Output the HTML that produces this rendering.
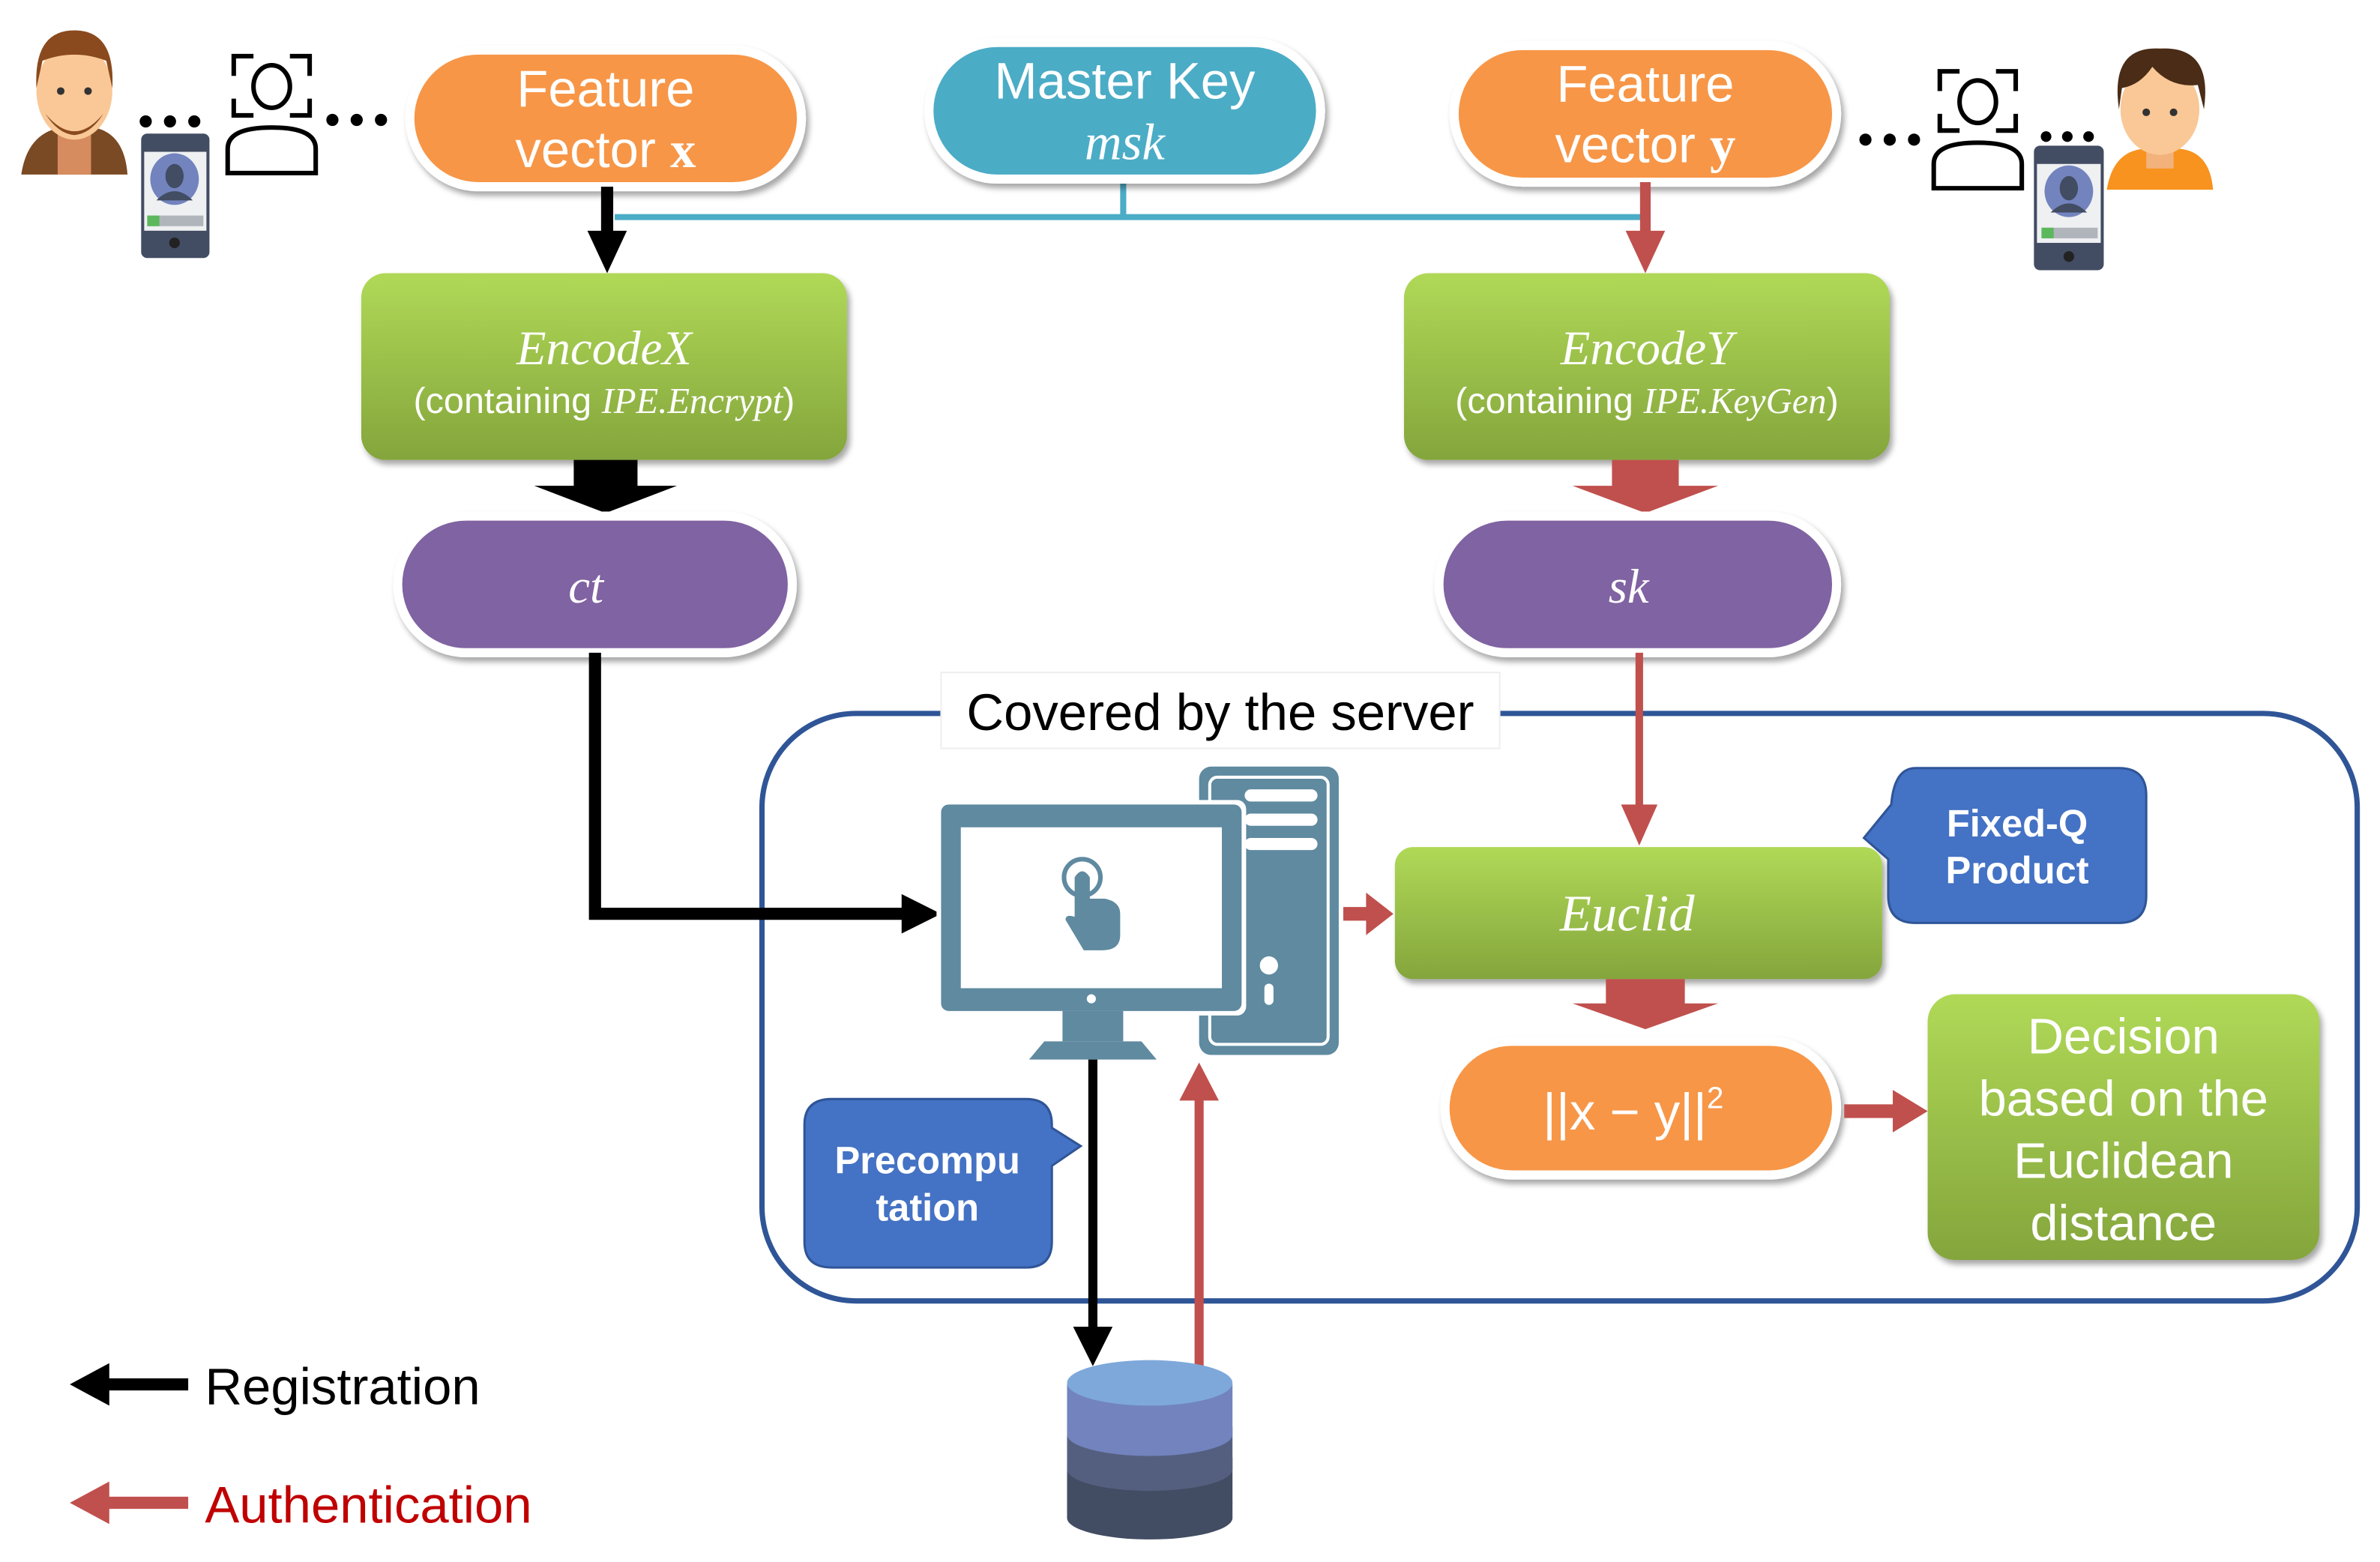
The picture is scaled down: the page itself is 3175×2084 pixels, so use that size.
<!DOCTYPE html>
<html><head><meta charset="utf-8"><style>
html,body{margin:0;padding:0;background:#fff;}
svg{display:block;}
text{font-family:"Liberation Sans",sans-serif;}
.ser{font-family:"Liberation Serif",serif;font-style:italic;}
</style></head><body>
<svg width="3175" height="2084" viewBox="0 0 1568 1029" preserveAspectRatio="none" xmlns="http://www.w3.org/2000/svg">
<defs>
<linearGradient id="gr" x1="0" y1="0" x2="0" y2="1"><stop offset="0" stop-color="#b0d957"/><stop offset="1" stop-color="#84a53c"/></linearGradient>
<filter id="sh" x="-10%" y="-10%" width="130%" height="140%"><feDropShadow dx="2" dy="3" stdDeviation="2" flood-opacity="0.35"/></filter>
</defs>
<rect width="1568" height="1029" fill="#fff"/>

<path d="M405 143 H1083 M740 118 V143" stroke="#4BACC6" stroke-width="4" fill="none"/>

<rect x="270" y="33" width="258" height="90" rx="45" fill="#F79646" stroke="#fff" stroke-width="6" filter="url(#sh)"/>
<text x="399" y="70" font-size="34" fill="#fff" text-anchor="middle">Feature</text>
<text x="399" y="110" font-size="34" fill="#fff" text-anchor="middle">vector <tspan font-family="Liberation Serif" font-weight="bold">x</tspan></text>

<rect x="612" y="28" width="258" height="90" rx="45" fill="#4BACC6" stroke="#fff" stroke-width="6" filter="url(#sh)"/>
<text x="741" y="65" font-size="34" fill="#fff" text-anchor="middle">Master Key</text>
<text x="741" y="105" font-size="34" fill="#fff" text-anchor="middle" class="ser">msk</text>

<rect x="958" y="30" width="252" height="90" rx="45" fill="#F79646" stroke="#fff" stroke-width="6" filter="url(#sh)"/>
<text x="1084" y="67" font-size="34" fill="#fff" text-anchor="middle">Feature</text>
<text x="1084" y="107" font-size="34" fill="#fff" text-anchor="middle">vector <tspan font-family="Liberation Serif" font-weight="bold">y</tspan></text>

<path d="M400 123 V155" stroke="#000" stroke-width="8"/>
<polygon points="387,152 413,152 400,180" fill="#000"/>
<path d="M1084 120 V155" stroke="#C0504D" stroke-width="7"/>
<polygon points="1071,152 1097,152 1084,180" fill="#C0504D"/>

<rect x="238" y="180" width="320" height="123" rx="16" fill="url(#gr)" filter="url(#sh)"/>
<text x="398" y="240" font-size="32" fill="#fff" text-anchor="middle" class="ser">EncodeX</text>
<text x="398" y="272" font-size="24" fill="#fff" text-anchor="middle">(containing <tspan class="ser">IPE.Encrypt</tspan>)</text>
<rect x="925" y="180" width="320" height="123" rx="16" fill="url(#gr)" filter="url(#sh)"/>
<text x="1085" y="240" font-size="32" fill="#fff" text-anchor="middle" class="ser">EncodeY</text>
<text x="1085" y="272" font-size="24" fill="#fff" text-anchor="middle">(containing <tspan class="ser">IPE.KeyGen</tspan>)</text>

<polygon points="378,303 420,303 420,320 446,320 399,338 352,320 378,320" fill="#000"/>
<polygon points="1062,303 1106,303 1106,320 1132,320 1084,338 1036,320 1062,320" fill="#C0504D"/>

<rect x="262" y="340" width="260" height="90" rx="45" fill="#8064A2" stroke="#fff" stroke-width="6" filter="url(#sh)"/>
<text x="386" y="397" font-size="32" fill="#fff" text-anchor="middle" class="ser">ct</text>
<rect x="948" y="340" width="262" height="90" rx="45" fill="#8064A2" stroke="#fff" stroke-width="6" filter="url(#sh)"/>
<text x="1073" y="397" font-size="32" fill="#fff" text-anchor="middle" class="ser">sk</text>

<rect x="502" y="470" width="1051" height="387" rx="62" fill="none" stroke="#2F5597" stroke-width="3.5"/>
<rect x="620" y="443" width="368" height="50" fill="#fff" stroke="#eee" stroke-width="1"/>
<text x="804" y="481" font-size="34" fill="#000" text-anchor="middle">Covered by the server</text>

<path d="M392 430 V602 H598" stroke="#000" stroke-width="8" fill="none"/>
<polygon points="594,589 594,615 620,602" fill="#000"/>
<path d="M1080 430 V535" stroke="#C0504D" stroke-width="5"/>
<polygon points="1068,530 1092,530 1080,557" fill="#C0504D"/>

<rect x="790" y="505" width="92" height="190" rx="8" fill="#5F8AA0"/>
<rect x="797" y="512" width="78" height="176" rx="5" fill="none" stroke="#fff" stroke-width="2"/>
<rect x="820" y="520" width="48" height="8" rx="4" fill="#fff"/>
<rect x="820" y="536" width="48" height="8" rx="4" fill="#fff"/>
<rect x="820" y="552" width="48" height="8" rx="4" fill="#fff"/>
<circle cx="836" cy="636" r="6" fill="#fff"/>
<rect x="833" y="648" width="6" height="14" rx="3" fill="#fff"/>
<rect x="617" y="527" width="204" height="142" rx="6" fill="#fff"/>
<rect x="620" y="530" width="198" height="136" rx="5" fill="#5F8AA0"/>
<rect x="633" y="545" width="172" height="106" fill="#fff"/>
<circle cx="719" cy="658" r="3" fill="#fff"/>
<rect x="700" y="666" width="40" height="20" fill="#5F8AA0"/>
<polygon points="688,686 752,686 762,698 678,698" fill="#5F8AA0"/>
<circle cx="713" cy="578" r="12" fill="none" stroke="#5F8AA0" stroke-width="3"/>
<path d="M708 578 q5 -8 10 0 v14 h10 q10 2 10 10 v14 q0 10 -12 10 h-12 l-12 -20 q0 -4 6 -2 z" fill="#5F8AA0"/>

<path d="M885 602 H902" stroke="#C0504D" stroke-width="9"/>
<polygon points="900,588 900,616 918,602" fill="#C0504D"/>

<rect x="919" y="558" width="321" height="87" rx="12" fill="url(#gr)" filter="url(#sh)"/>
<text x="1072" y="613" font-size="34" fill="#fff" text-anchor="middle" class="ser">Euclid</text>

<path d="M1262 506 H1396 Q1414 506 1414 524 V590 Q1414 608 1396 608 H1262 Q1244 608 1244 590 V566 L1228 552 L1246 530 Q1248 506 1262 506 Z" fill="#4472C4" stroke="#2F5597" stroke-width="1.5"/>
<text x="1329" y="551" font-size="25" font-weight="bold" fill="#fff" text-anchor="middle">Fixed-Q</text>
<text x="1329" y="582" font-size="25" font-weight="bold" fill="#fff" text-anchor="middle">Product</text>

<polygon points="1058,645 1110,645 1110,661 1132,661 1084,678 1036,661 1058,661" fill="#C0504D"/>

<rect x="952" y="686" width="258" height="88" rx="44" fill="#F79646" stroke="#fff" stroke-width="6" filter="url(#sh)"/>
<text x="1076" y="744" font-size="34" fill="#fff" text-anchor="middle" font-family="Liberation Serif">||x − y||<tspan font-size="20" dy="-14">2</tspan></text>

<path d="M1215 732 H1250" stroke="#C0504D" stroke-width="9"/>
<polygon points="1247,718 1247,746 1270,732" fill="#C0504D"/>

<rect x="1270" y="655" width="258" height="175" rx="18" fill="url(#gr)" filter="url(#sh)"/>
<text x="1399" y="694" font-size="33" fill="#fff" text-anchor="middle">Decision</text>
<text x="1399" y="735" font-size="33" fill="#fff" text-anchor="middle">based on the</text>
<text x="1399" y="776" font-size="33" fill="#fff" text-anchor="middle">Euclidean</text>
<text x="1399" y="817" font-size="33" fill="#fff" text-anchor="middle">distance</text>

<path d="M548 724 H676 Q693 724 693 741 V743 L712 755 L693 768 V818 Q693 835 676 835 H548 Q530 835 530 818 V741 Q530 724 548 724 Z" fill="#4472C4" stroke="#2F5597" stroke-width="1.5"/>
<text x="611" y="773" font-size="25" font-weight="bold" fill="#fff" text-anchor="middle">Precompu</text>
<text x="611" y="804" font-size="25" font-weight="bold" fill="#fff" text-anchor="middle">tation</text>

<path d="M720 698 V878" stroke="#000" stroke-width="6"/>
<polygon points="707,874 733,874 720,900" fill="#000"/>
<path d="M790 900 V722" stroke="#C0504D" stroke-width="6"/>
<polygon points="777,725 803,725 790,700" fill="#C0504D"/>

<path d="M703 990 V1000 A54 14 0 0 0 812 1000 V990 Z" fill="#424C62"/>
<path d="M703 960 V990 A54 14 0 0 0 812 990 V960 Z" fill="#424C62"/>
<path d="M703 940 V968 A54 14 0 0 0 812 968 V940 Z" fill="#545F80"/>
<path d="M703 912 V945 A54 14 0 0 0 812 945 V912 Z" fill="#7283BE"/>
<ellipse cx="757.5" cy="911" rx="54.5" ry="15" fill="#7EA8DA"/>

<path d="M62 912 H124" stroke="#000" stroke-width="8"/>
<polygon points="72,898 72,926 46,912" fill="#000"/>
<text x="135" y="925" font-size="34" fill="#000">Registration</text>
<path d="M62 990 H124" stroke="#C0504D" stroke-width="8"/>
<polygon points="72,976 72,1004 46,990" fill="#C0504D"/>
<text x="135" y="1003" font-size="34" fill="#C00000">Authentication</text>

<!-- left user -->
<path d="M14 115 Q18 88 40 84 H62 Q82 88 84 115 Z" fill="#7A4A24"/>
<rect x="38" y="84" width="22" height="31" fill="#D68C5E"/>
<ellipse cx="49" cy="60" rx="25" ry="32" fill="#F9C896"/>
<path d="M24 58 Q22 20 49 20 Q76 20 74 58 L70 40 Q49 32 28 40 Z" fill="#8A4A1E"/>
<path d="M30 75 Q49 98 68 75 Q60 88 49 89 Q38 88 30 75Z" fill="#8A4A1E"/>
<circle cx="40" cy="60" r="2.5" fill="#333"/><circle cx="58" cy="60" r="2.5" fill="#333"/>
<g fill="#000"><circle cx="96" cy="80" r="4"/><circle cx="112" cy="80" r="4"/><circle cx="128" cy="80" r="4"/></g>
<rect x="93" y="88" width="45" height="82" rx="4" fill="#424C62"/>
<rect x="95" y="100" width="41" height="52" fill="#eef0f2"/>
<ellipse cx="115" cy="118" rx="16" ry="17" fill="#7283BE"/>
<ellipse cx="115" cy="116" rx="6" ry="8" fill="#424C62"/>
<path d="M103 132 Q115 120 127 132 Z" fill="#424C62"/>
<rect x="97" y="142" width="37" height="7" fill="#b0b5bc"/><rect x="97" y="142" width="8" height="7" fill="#5cb85c"/>
<circle cx="115" cy="160" r="3.5" fill="#222"/>
<g fill="none" stroke="#000" stroke-width="3">
<path d="M154 50 V37 H167 M191 37 H204 V50 M154 65 V76 H167 M191 76 H204 V65"/>
<ellipse cx="179" cy="57" rx="12" ry="14"/>
<path d="M150 114 V98 Q150 84 179 84 Q208 84 208 98 V114 Z"/>
</g>
<g fill="#000"><circle cx="219" cy="79" r="4"/><circle cx="235" cy="79" r="4"/><circle cx="251" cy="79" r="4"/></g>

<!-- right user -->
<g fill="#000"><circle cx="1229" cy="92" r="4"/><circle cx="1245" cy="92" r="4"/><circle cx="1261" cy="92" r="4"/></g>
<g fill="none" stroke="#000" stroke-width="3">
<path d="M1278 60 V47 H1291 M1315 47 H1328 V60 M1278 75 V86 H1291 M1315 86 H1328 V75"/>
<ellipse cx="1303" cy="67" rx="12" ry="14"/>
<path d="M1274 124 V108 Q1274 94 1303 94 Q1332 94 1332 108 V124 Z"/>
</g>
<g fill="#000"><circle cx="1348" cy="90" r="3.5"/><circle cx="1362" cy="90" r="3.5"/><circle cx="1376" cy="90" r="3.5"/></g>
<rect x="1340" y="96" width="46" height="82" rx="4" fill="#424C62"/>
<rect x="1342" y="108" width="42" height="52" fill="#eef0f2"/>
<ellipse cx="1363" cy="126" rx="16" ry="17" fill="#7283BE"/>
<ellipse cx="1363" cy="124" rx="6" ry="8" fill="#424C62"/>
<path d="M1351 140 Q1363 128 1375 140 Z" fill="#424C62"/>
<rect x="1345" y="150" width="37" height="7" fill="#b0b5bc"/><rect x="1345" y="150" width="8" height="7" fill="#5cb85c"/>
<circle cx="1363" cy="169" r="3.5" fill="#222"/>
<path d="M1388 125 Q1392 100 1412 98 H1436 Q1456 100 1458 125 Z" fill="#F7931E"/>
<rect x="1414" y="95" width="18" height="16" fill="#F3B27C"/>
<ellipse cx="1423" cy="72" rx="26" ry="30" fill="#F9C896"/>
<path d="M1396 72 Q1390 30 1423 32 Q1458 30 1452 72 L1448 56 Q1430 58 1418 44 Q1410 56 1398 58 Z" fill="#4A2C17"/>
<circle cx="1414" cy="74" r="2.5" fill="#333"/><circle cx="1432" cy="74" r="2.5" fill="#333"/>
</svg>
</body></html>
